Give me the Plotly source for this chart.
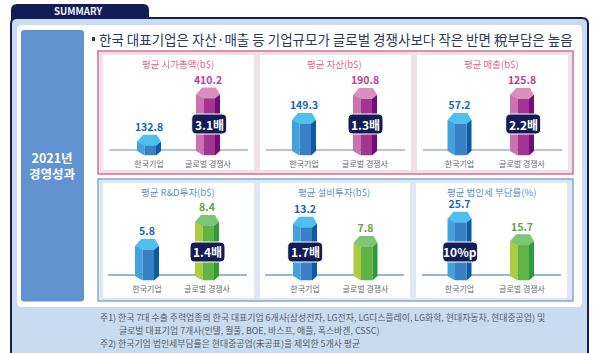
import plotly.graph_objects as go

# ---- data ----
categories = ["한국기업", "글로벌 경쟁사"]
panel_titles = ["평균 시가총액(b$)", "평균 자산(b$)", "평균 매출(b$)",
                "평균 R&D투자(b$)", "평균 설비투자(b$)", "평균 법인세 부담률(%)"]
korea_values = [132.8, 149.3, 57.2, 5.8, 13.2, 25.7]
global_values = [410.2, 190.8, 125.8, 8.4, 7.8, 15.7]
badge_labels = ["3.1배", "1.3배", "2.2배", "1.4배", "1.7배", "10%p"]
heading = "한국 대표기업은 자산·매출 등 기업규모가 글로벌 경쟁사보다 작은 반면 稅부담은 높음"
side_label = ["2021년", "경영성과"]
footnotes = ["주1) 한국 7대 수출 주력업종의 한국 대표기업 6개사(삼성전자, LG전자, LG디스플레이, LG화학, 현대자동차, 현대중공업) 및",
             "글로벌 대표기업 7개사(인텔, 월풀, BOE, 바스프, 애플, 폭스바겐, CSSC)",
             "주2) 한국기업 법인세부담률은 현대중공업(未공표)을 제외한 5개사 평균"]

# ---- layout (pixels of the 600x353 page) ----
W, H = 600, 353
FONT = "Noto Sans CJK KR"
NAVY = "#141c56"
BLUE = dict(left="#42a2de", mid="#3a80c4", right="#0b5ba6", cap="#4fbfef", text="#1668b2")
MAG = dict(left="#cc72b0", mid="#a2358f", right="#730b78", cap="#d98fbf", text="#b53f9e")
GRN = dict(left="#adcc40", mid="#62b346", right="#309a40", cap="#80c476", text="#58a93a")
panels = [
    dict(base=(109, 248), cx=(149, 208), y=150, tops=(134.7, 87.5), style=MAG, title="#e2648f", line="#b6c4de", tcx=178, badge=(191.7, 226.7), by=(114, 134)),
    dict(base=(266, 405), cx=(304, 365), y=150, tops=(113, 88), style=MAG, title="#e2648f", line="#b6c4de", tcx=334, badge=(348, 383), by=(114, 134)),
    dict(base=(423, 562), cx=(459.5, 522), y=150, tops=(113, 88), style=MAG, title="#e2648f", line="#b6c4de", tcx=492, badge=(505.7, 540.7), by=(114, 134)),
    dict(base=(108, 247), cx=(147, 207), y=275, tops=(239, 215), style=GRN, title="#5b90d0", line="#7f9bd2", tcx=178, badge=(190, 225), by=(242, 262)),
    dict(base=(265, 404), cx=(305, 365.5), y=275, tops=(216.7, 236), style=GRN, title="#5b90d0", line="#7f9bd2", tcx=334, badge=(287.7, 322.7), by=(242, 262)),
    dict(base=(422, 561), cx=(459.5, 522), y=275, tops=(211.7, 234.3), style=GRN, title="#5b90d0", line="#7f9bd2", tcx=492, badge=(442.7, 477.7), by=(242, 262)),
]
TOP_SPAN = 80      # plot height above the baseline, px
APEX = 7           # cap rises this far above the bar's value, px
FRONT = 4          # cap front edge below the value, px
BELOW_SIDE = 1     # side facets end this far below baseline, px
BELOW_FRONT = 5.5  # front facet ends this far below baseline = bottom of the plot, px


def px(x):
    return x / W


def py(y):
    return 1 - y / H


def rrect(x0, y0, x1, y1, r, fill, line=None, lw=0, layer="below"):
    p = (f"M {px(x0 + r)} {py(y0)} L {px(x1 - r)} {py(y0)} Q {px(x1)} {py(y0)} {px(x1)} {py(y0 + r)} "
         f"L {px(x1)} {py(y1 - r)} Q {px(x1)} {py(y1)} {px(x1 - r)} {py(y1)} "
         f"L {px(x0 + r)} {py(y1)} Q {px(x0)} {py(y1)} {px(x0)} {py(y1 - r)} "
         f"L {px(x0)} {py(y0 + r)} Q {px(x0)} {py(y0)} {px(x0 + r)} {py(y0)} Z")
    return dict(type="path", xref="paper", yref="paper", path=p, fillcolor=fill, layer=layer,
                line=dict(color=line or "rgba(0,0,0,0)", width=lw))


def label(x, y, text, size, color, anchor="center"):
    return dict(xref="paper", yref="paper", x=px(x), y=py(y), text=text, showarrow=False,
                xanchor=anchor, yanchor="middle", font=dict(family=FONT, size=size, color=color))


shapes = [
    rrect(11, 4, 149, 30, 6, NAVY),
    rrect(11, 18, 588, 372, 6, "#c9dbee", NAVY, 2),
    rrect(17, 25, 582, 307, 5, "#ffffff"),
    rrect(21, 30, 84, 301.5, 3, "#6093d0"),
    dict(type="rect", xref="paper", yref="paper", x0=px(92), x1=px(95), y0=py(41), y1=py(37),
         fillcolor="#2c3a58", line=dict(width=0), layer="below"),
    dict(type="rect", xref="paper", yref="paper", x0=px(98), x1=px(573), y0=py(174), y1=py(51),
         fillcolor="#efe1ea", line=dict(color="#dc6d92", width=1.5), layer="below"),
    dict(type="rect", xref="paper", yref="paper", x0=px(98), x1=px(573), y0=py(301), y1=py(179),
         fillcolor="#dfe7f4", line=dict(color="#86a8d8", width=1.5), layer="below"),
]
for x0, x1 in [(103, 254), (260, 411), (417, 568)]:
    shapes.append(dict(type="rect", xref="paper", yref="paper", x0=px(x0), x1=px(x1), y0=py(170), y1=py(55),
                       fillcolor="white", line=dict(width=0), layer="below"))
for x0, x1 in [(103, 254), (260, 410), (416, 567)]:
    shapes.append(dict(type="rect", xref="paper", yref="paper", x0=px(x0), x1=px(x1), y0=py(298), y1=py(183),
                       fillcolor="white", line=dict(width=0), layer="below"))

annotations = [
    label(79, 11.5, "<b>SUMMARY</b>", 9.7, "#eef3fb"),
    label(97, 39, heading, 13.5, "#2c3a58", "left"),
    label(52.5, 165.5, "<b>" + side_label[0] + "<br>" + side_label[1] + "</b>", 12.5, "white"),
    label(98, 317, footnotes[0], 8.9, "#555b66", "left"),
    label(117, 330.7, footnotes[1], 8.9, "#555b66", "left"),
    label(98, 343.5, footnotes[2], 8.9, "#555b66", "left"),
]

fig = go.Figure()
layout_axes = {}
for i, p in enumerate(panels):
    suffix = "" if i == 0 else str(i + 1)
    xa, ya = "x" + suffix, "y" + suffix
    v = (korea_values[i], global_values[i])
    bottom = p["y"] + BELOW_FRONT
    # px-per-value scale: apex rows of the two bars fix the truncated value axis
    scale = abs((p["tops"][0] - p["tops"][1]) / (v[0] - v[1]))
    y_low = v[0] - (bottom - (p["tops"][0] + APEX)) / scale
    y_high = y_low + (TOP_SPAN + BELOW_FRONT) / scale
    dy = 1 / scale                     # value units per pixel
    sp = p["cx"][1] - p["cx"][0]       # pixels per category
    dx = 1 / sp
    x_range = [(p["base"][0] - p["cx"][0]) * dx, (p["base"][1] - p["cx"][0]) * dx]

    side_base = y_low + (BELOW_FRONT - BELOW_SIDE) * dy
    styles = (BLUE, p["style"])
    xs = (0, 1)
    for key, a, b, base in [("left", -12, -4.5, side_base), ("right", 7, 12, side_base), ("mid", -4.5, 7, y_low)]:
        fig.add_trace(go.Bar(
            x=[c + (a + b) / 2 * dx for c in xs], y=[val - base for val in v], base=[base, base],
            width=(b - a) * dx, marker=dict(color=[s[key] for s in styles], line=dict(width=0)),
            xaxis=xa, yaxis=ya, cliponaxis=False, hoverinfo="skip", showlegend=False))
    for c, val, s in zip(xs, v, styles):
        cap_x = [c + k * dx for k in (-6, 8, 12, 7, -4.5, -12, -6)]
        cap_y = [val + k * dy for k in (APEX, APEX, 0, -FRONT, -FRONT, 0, APEX)]
        fig.add_trace(go.Scatter(x=cap_x, y=cap_y, mode="lines", fill="toself", fillcolor=s["cap"],
                                 line=dict(width=0), xaxis=xa, yaxis=ya, cliponaxis=False,
                                 hoverinfo="skip", showlegend=False))
        for key, a, b, in [("left", -12, -4.5), ("right", 12, 7)]:
            fig.add_trace(go.Scatter(
                x=[c + a * dx, c + b * dx, c + b * dx, c + a * dx],
                y=[side_base, side_base, y_low, side_base],
                mode="lines", fill="toself", fillcolor=s[key], line=dict(width=0),
                xaxis=xa, yaxis=ya, cliponaxis=False, hoverinfo="skip", showlegend=False))
        fig.add_trace(go.Scatter(
            x=[c], y=[val + (APEX + 1) * dy], mode="text", text=[f"<b>{val}</b>"], textposition="top center",
            textfont=dict(family=FONT, size=10.5, color=s["text"]),
            xaxis=xa, yaxis=ya, cliponaxis=False, hoverinfo="skip", showlegend=False))

    layout_axes["xaxis" + suffix] = dict(
        domain=[px(p["base"][0]), px(p["base"][1])], range=x_range, anchor=ya,
        tickmode="array", tickvals=[0, 1], ticktext=categories, ticks="", ticklabelstandoff=2,
        tickfont=dict(family=FONT, size=8, color="#666a72"), showgrid=False, zeroline=False,
        showline=False, fixedrange=True)
    layout_axes["yaxis" + suffix] = dict(
        domain=[py(bottom), py(p["y"] - TOP_SPAN)], range=[y_low, y_high], anchor=xa, visible=False, fixedrange=True)

    shapes.append(dict(type="line", xref="paper", yref="paper", x0=px(p["base"][0]), x1=px(p["base"][1]),
                       y0=py(p["y"]), y1=py(p["y"]), layer="below",
                       line=dict(color=p["line"], width=2 if i < 3 else 1.5)))
    annotations.append(label(p["tcx"], 64 if i < 3 else 191.5, panel_titles[i], 9.5, p["title"]))
    shapes.append(rrect(p["badge"][0], p["by"][0], p["badge"][1], p["by"][1], 5, NAVY, "white", 1, "above"))
    annotations.append(label(sum(p["badge"]) / 2, sum(p["by"]) / 2, "<b>" + badge_labels[i] + "</b>", 12, "white"))

fig.update_layout(
    width=W, height=H, margin=dict(l=0, r=0, t=0, b=0), autosize=False,
    paper_bgcolor="white", plot_bgcolor="rgba(0,0,0,0)", barmode="overlay",
    showlegend=False, shapes=shapes, annotations=annotations, **layout_axes)

fig.write_html("out.html", config=dict(displayModeBar=False),
               post_script="document.body.style.margin='0';document.body.style.overflow='hidden';")
